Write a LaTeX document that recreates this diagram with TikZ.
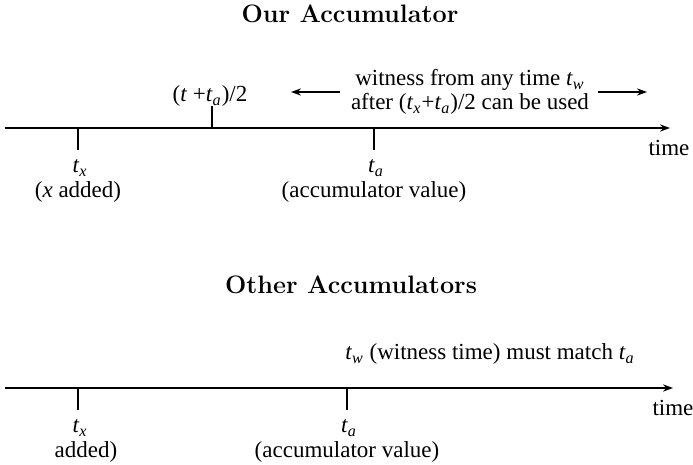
\documentclass[tikz,border=0pt]{standalone}
\usepackage{fontspec}
\setmainfont{Liberation Serif}
\newfontfamily\lmfont{Latin Modern Roman}
\usetikzlibrary{arrows.meta}
\newcommand{\tsb}[1]{\textit{t}\textsubscript{\textit{#1}}}
\begin{document}
\begin{tikzpicture}[x=0.5pt,y=-0.5pt,
  every node/.style={inner sep=0pt,outer sep=0pt,font=\fontsize{11.5}{13}\selectfont},
  axis/.style={line width=0.6pt,-{Stealth[length=5pt,width=3.6pt,inset=1.6pt]}},
  tick/.style={line width=0.6pt},
  warrow/.style={line width=0.6pt,-{Stealth[length=5pt,width=3.6pt,inset=1.6pt]}},
  title/.style={font=\lmfont\bfseries\fontsize{12.6}{14}\selectfont}]
\useasboundingbox (0,0) rectangle (693,465);
% Top
\node[title] (t1) at (350,14) {Our Accumulator};
\coordinate (a1s) at (5,128);
\coordinate (a1e) at (670,128);
\draw[axis] (a1s) -- (a1e);
\coordinate (tx1) at (78,128);
\coordinate (tx1b) at (78,150);
\coordinate (tm1) at (212,128);
\coordinate (tm1b) at (212,106);
\coordinate (ta1) at (374,128);
\coordinate (ta1b) at (374,150);
\draw[tick] (tx1) -- (tx1b);
\draw[tick] (tm1) -- (tm1b);
\draw[tick] (ta1) -- (ta1b);
\node (time1) at (669,148) {time};
\node (ltx1) at (80,168) {\tsb{x}};
\node (lxa1) at (78,192) {(\textit{x} added)};
\node (lta1) at (376,168) {\tsb{a}};
\node (lav1) at (374,192) {(accumulator value)};
\node (lmid) at (210,96) {(\textit{t} +\tsb{a})/2};
\node (w1) at (470,80) {witness from any time \tsb{w}};
\node (w2) at (470,104) {after (\tsb{x}+\tsb{a})/2 can be used};
\coordinate (la) at (340,92);
\coordinate (lb) at (291,92);
\coordinate (ra) at (598,92);
\coordinate (rb) at (647,92);
\draw[warrow] (la) -- (lb);
\draw[warrow] (ra) -- (rb);
% Bottom
\node[title] (t2) at (351,285) {Other Accumulators};
\coordinate (a2s) at (5,388);
\coordinate (a2e) at (673,388);
\draw[axis] (a2s) -- (a2e);
\coordinate (tx2) at (78,388);
\coordinate (tx2b) at (78,410);
\coordinate (ta2) at (347,388);
\coordinate (ta2b) at (347,410);
\draw[tick] (tx2) -- (tx2b);
\draw[tick] (ta2) -- (ta2b);
\node (time2) at (673,408) {time};
\node (ltx2) at (80,428) {\tsb{x}};
\node (lxa2) at (86,452) {added)};
\node (lta2) at (349,428) {\tsb{a}};
\node (lav2) at (347,452) {(accumulator value)};
\node (wm) at (490,354) {\tsb{w} (witness time) must match \tsb{a}};
\end{tikzpicture}
\end{document}
